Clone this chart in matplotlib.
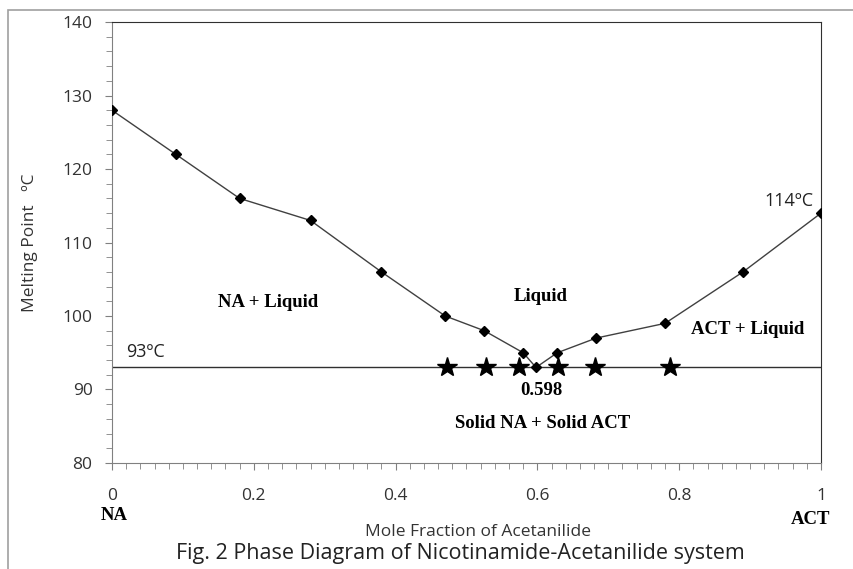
import matplotlib.pyplot as plt
from matplotlib.ticker import MultipleLocator
from matplotlib.patches import Rectangle

# liquidus data (mole fraction of acetanilide vs melting point)
x_frac = [0, 0.09, 0.18, 0.28, 0.38, 0.47, 0.525, 0.58, 0.598, 0.628, 0.683, 0.78, 0.89, 1.0]
melt_pt = [128, 122, 116, 113, 106, 100, 98, 95, 93, 95, 97, 99, 106, 114]

# eutectic halt points
star_x = [0.473, 0.527, 0.574, 0.629, 0.681, 0.787]
star_y = [93, 93, 93, 93, 93, 93]
eutectic_T = 93

fig = plt.figure(figsize=(8.54, 5.69), dpi=100)
ax = fig.add_axes([0.1311, 0.1863, 0.8303, 0.775])

# outer chart frame
fig.patches.append(Rectangle((8/854, -0.01), 1.0, 1 - 10/569 + 0.01, transform=fig.transFigure,
                             fill=False, edgecolor='#a0a0a0', lw=1.2))

ax.plot(x_frac, melt_pt, color='#404040', lw=1, marker='D', ms=5.5,
        mfc='black', mec='black', zorder=3)
ax.axhline(eutectic_T, color='#303030', lw=1, zorder=2)
ax.plot(star_x, star_y, ls='none', marker='*', ms=15, color='black', zorder=4)

ax.set_xlim(0, 1)
ax.set_ylim(80, 140)
ax.xaxis.set_minor_locator(MultipleLocator(0.02))
ax.yaxis.set_major_locator(MultipleLocator(10))
ax.yaxis.set_minor_locator(MultipleLocator(2))
ax.set_xticks([0, 0.2, 0.4, 0.6, 0.8, 1])
ax.set_xticklabels(['0', '0.2', '0.4', '0.6', '0.8', '1'])
ax.tick_params(axis='both', which='major', length=5, color='#808080', labelsize=12.5,
               labelcolor='#333333', direction='out')
ax.tick_params(axis='both', which='minor', length=4, color='#808080', direction='out')
ax.tick_params(axis='x', pad=13)
ax.tick_params(axis='y', pad=9)
sans = 'Open Sans'
for lab in ax.get_xticklabels() + ax.get_yticklabels():
    lab.set_family(sans)
for s in ['left', 'bottom']:
    ax.spines[s].set_color('#808080')
for s in ['top', 'right']:
    ax.spines[s].set_color('#303030')

fig.text(30/854, 1 - 243/569, 'Melting Point   \u00baC', family=sans, fontsize=12.5,
         color='#333333', rotation=90, ha='center', va='center')

serif = dict(family='Liberation Serif', fontweight='bold', fontsize=13.5, ha='center', va='center')
ax.text(0.22, 101.9, 'NA + Liquid', **serif)
ax.text(0.604, 102.7, 'Liquid', **serif)
ax.text(0.896, 98.2, 'ACT + Liquid', **serif)
ax.text(0.605, 89.9, '0.598', **serif)
ax.text(0.608, 85.4, 'Solid NA + Solid ACT', **serif)

ax.text(0.048, 95.1, '93\u00baC', family=sans, fontsize=13, color='#222222', va='center', ha='center')
ax.text(0.955, 115.6, '114\u00baC', family=sans, fontsize=13, color='#222222', va='center', ha='center')

fig.text(114/854, 1 - 516/569, 'NA', family='Liberation Serif', fontweight='bold', fontsize=13.5,
         ha='center', va='center')
fig.text(811/854, 1 - 520/569, 'ACT', family='Liberation Serif', fontweight='bold', fontsize=13.5,
         ha='center', va='center')
fig.text(478/854, 1 - 532/569, 'Mole Fraction of Acetanilide', family=sans, fontsize=12.5,
         color='#333333', ha='center', va='center')
fig.text(460/854, 1 - 554/569, 'Fig. 2 Phase Diagram of Nicotinamide-Acetanilide system',
         family=sans, fontsize=15.5, color='#222222', ha='center', va='center')

fig.savefig('out.png', dpi=100)
